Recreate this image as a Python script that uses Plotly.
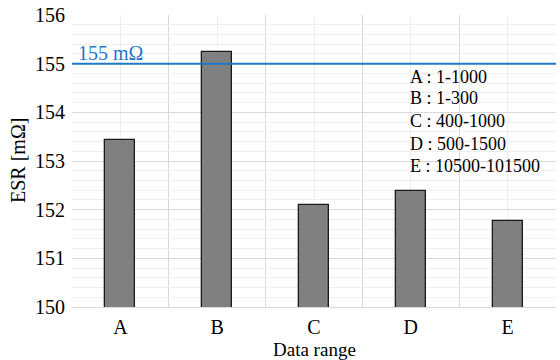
import plotly.graph_objects as go

categories = ["A", "B", "C", "D", "E"]
esr_values = [153.44, 155.25, 152.10, 152.38, 151.76]
limit_value = 155
limit_label = "155 mΩ"
range_labels = ["A : 1-1000", "B : 1-300", "C : 400-1000", "D : 500-1500", "E : 10500-101500"]
y_ticks = [150, 151, 152, 153, 154, 155, 156]

FONT = "Liberation Serif"
BLUE = "#1f78c8"

x_pos = list(range(len(categories)))

fig = go.Figure()
fig.add_trace(go.Bar(
    x=x_pos, y=esr_values, width=0.31,
    marker=dict(color="#808080", line=dict(color="#1a1a1a", width=1.3)),
    showlegend=False, hoverinfo="skip",
))

fig.add_shape(type="line", xref="paper", x0=0, x1=1, yref="y", y0=limit_value, y1=limit_value,
              line=dict(color=BLUE, width=2), layer="above")

fig.add_annotation(x=-0.5, y=limit_value, xref="x", yref="y", text=limit_label,
                   showarrow=False, xanchor="left", yanchor="bottom", xshift=4, yshift=-2,
                   font=dict(family=FONT, size=20, color=BLUE))

plot_h = 294
plot_w = 484
line_px = [75, 97, 120, 143, 165]
for txt, yp in zip(range_labels, line_px):
    fig.add_annotation(x=(408 - 72) / plot_w, y=(307 - yp) / plot_h, xref="paper", yref="paper",
                       text=txt, showarrow=False, xanchor="left", yanchor="middle",
                       font=dict(family=FONT, size=18, color="black"))

fig.add_annotation(x=0.5, y=-43 / plot_h, xref="paper", yref="paper", text="Data range",
                   showarrow=False, xanchor="center", yanchor="middle",
                   font=dict(family=FONT, size=19, color="black"))
fig.add_annotation(x=-54 / plot_w, y=0.5, xref="paper", yref="paper", text="ESR [mΩ]",
                   textangle=-90, showarrow=False, xanchor="center", yanchor="middle",
                   font=dict(family=FONT, size=20, color="black"))

fig.update_layout(
    width=560, height=360,
    margin=dict(l=72, r=4, t=13, b=53),
    paper_bgcolor="white", plot_bgcolor="white",
    bargap=0,
    font=dict(family=FONT, size=20, color="black"),
    xaxis=dict(
        range=[-0.5, len(categories) - 0.5],
        tickmode="array", tickvals=x_pos, ticktext=categories,
        showgrid=True, gridcolor="#efefef", gridwidth=1,
        ticks="", ticklabelstandoff=2,
        minor=dict(tickmode="array", tickvals=[i - 0.5 for i in range(len(categories) + 1)],
                   showgrid=True, gridcolor="#d9d9d9", gridwidth=1),
        showline=True, linecolor="#d9d9d9", linewidth=1,
        zeroline=False,
        tickfont=dict(family=FONT, size=20, color="black"),
    ),
    yaxis=dict(
        range=[150, 156],
        tickmode="array", tickvals=y_ticks,
        showgrid=True, gridcolor="#d9d9d9", gridwidth=1,
        minor=dict(dtick=0.2, tick0=150, showgrid=True, gridcolor="#efefef", gridwidth=1),
        ticks="", ticklabelstandoff=6,
        zeroline=False,
        tickfont=dict(family=FONT, size=20, color="black"),
    ),
)

fig.write_html("out.html", config={"displayModeBar": False},
               post_script="document.body.style.margin='0';")
